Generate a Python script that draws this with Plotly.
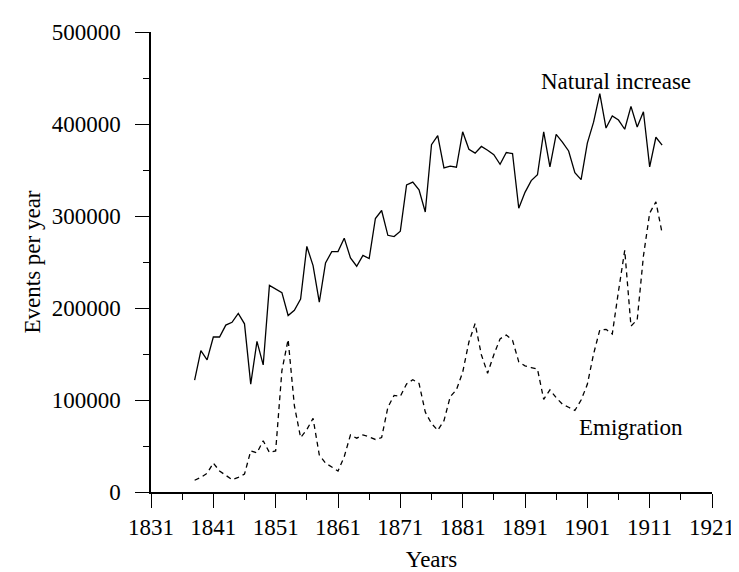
import plotly.graph_objects as go

years = [1838, 1839, 1840, 1841, 1842, 1843, 1844, 1845, 1846, 1847,
         1848, 1849, 1850, 1851, 1852, 1853, 1854, 1855, 1856, 1857,
         1858, 1859, 1860, 1861, 1862, 1863, 1864, 1865, 1866, 1867,
         1868, 1869, 1870, 1871, 1872, 1873, 1874, 1875, 1876, 1877,
         1878, 1879, 1880, 1881, 1882, 1883, 1884, 1885, 1886, 1887,
         1888, 1889, 1890, 1891, 1892, 1893, 1894, 1895, 1896, 1897,
         1898, 1899, 1900, 1901, 1902, 1903, 1904, 1905, 1906, 1907,
         1908, 1909, 1910, 1911, 1912, 1913]

natural_increase = [121500, 153700, 143600, 168500, 168500, 181400, 184500, 194200, 182800, 117300,
                    163800, 138100, 224600, 220800, 216700, 191800, 197600, 209800, 266900, 246100,
                    206300, 248900, 261300, 261300, 275900, 254400, 245400, 257200, 253700, 297300,
                    306000, 279000, 277600, 283500, 333700, 336800, 328500, 304300, 377600, 387300,
                    352300, 354100, 353000, 391500, 372500, 368300, 375600, 371400, 366600, 356200,
                    369000, 367900, 308400, 325700, 338500, 344800, 391500, 353400, 388700, 380400,
                    370700, 347100, 339600, 379300, 402000, 433000, 395600, 408800, 404300, 394300,
                    419200, 396700, 413300, 353400, 385600, 377000]

emigration = [12800, 15900, 20400, 31500, 22800, 17700, 13500, 15900, 19400, 44700,
              42600, 55700, 42900, 44700, 131900, 165800, 93800, 59200, 67800, 80000,
              40200, 31500, 27300, 22800, 38400, 62000, 58500, 62000, 59900, 57100,
              59200, 92100, 105000, 104000, 117500, 122000, 118000, 86900, 74500, 67000,
              77500, 103500, 111100, 130100, 163000, 183100, 149200, 129100, 149200, 166500,
              170600, 164800, 141500, 137100, 135300, 133600, 100700, 111100, 102500, 95500,
              92100, 88600, 100000, 117000, 150000, 176200, 176800, 171700, 218400, 262700,
              180400, 187200, 256500, 303200, 315400, 281400]

x_ticks = [1831, 1841, 1851, 1861, 1871, 1881, 1891, 1901, 1911, 1921]
y_ticks = [0, 100000, 200000, 300000, 400000, 500000]

labels = {"natural": "Natural increase", "emigration": "Emigration"}

FONT = "Liberation Serif, Times New Roman, serif"
FS = 23

fig = go.Figure()
fig.add_trace(go.Scatter(x=years, y=natural_increase, mode="lines",
                         line=dict(color="black", width=1.3), name=labels["natural"],
                         showlegend=False, hoverinfo="skip"))
fig.add_trace(go.Scatter(x=years, y=emigration, mode="lines",
                         line=dict(color="black", width=1.3, dash="5px,4px"),
                         name=labels["emigration"], showlegend=False, hoverinfo="skip"))

fig.add_annotation(x=1905.6, y=446500, text=labels["natural"], showarrow=False,
                   font=dict(family=FONT, size=FS, color="black"))
fig.add_annotation(x=1908.0, y=70600, text=labels["emigration"], showarrow=False,
                   font=dict(family=FONT, size=FS, color="black"))

axis_common = dict(showgrid=False, zeroline=False, showline=True, linecolor="black",
                   linewidth=1.5, ticks="outside", ticklen=14, tickwidth=1.3,
                   tickcolor="black", tickfont=dict(family=FONT, size=FS, color="black"),
                   ticklabeloverflow="allow")

fig.update_xaxes(range=[1831, 1921], tickvals=x_ticks, ticktext=[str(v) for v in x_ticks],
                 minor=dict(ticks="outside", ticklen=6, tickwidth=1.3, tickcolor="black", dtick=5, tick0=1831),
                 title=dict(text="Years", font=dict(family=FONT, size=FS, color="black"), standoff=12),
                 **axis_common)
fig.update_yaxes(range=[0, 500000], tickvals=y_ticks, ticktext=[str(v) for v in y_ticks],
                 minor=dict(ticks="outside", ticklen=6, tickwidth=1.3, tickcolor="black", dtick=50000, tick0=0),
                 title=dict(text="Events per year", font=dict(family=FONT, size=FS, color="black"), standoff=5),
                 ticklabelstandoff=10,
                 **axis_common)

fig.update_layout(width=739, height=572, margin=dict(l=143, r=20, t=16, b=75),
                  plot_bgcolor="white", paper_bgcolor="white",
                  font=dict(family=FONT, size=FS, color="black"))

fig.write_html("out.html")
